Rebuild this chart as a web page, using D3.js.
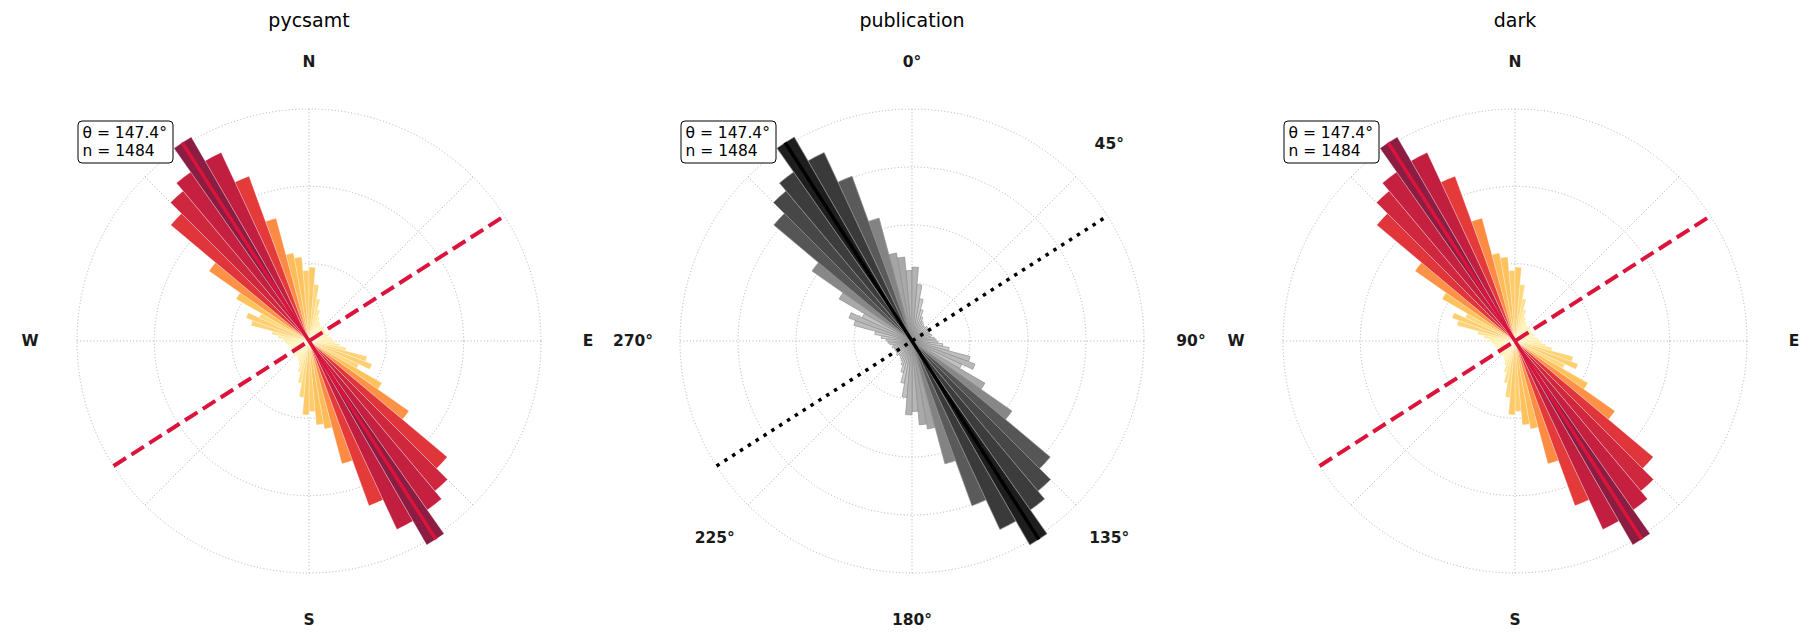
<!DOCTYPE html>
<html><head><meta charset="utf-8">
<script src="https://cdn.jsdelivr.net/npm/d3@7"></script>
<style>body{margin:0;background:#fff}svg{display:block}</style>
</head><body>
<svg id="chart" width="1820" height="644"></svg>
<script>
// ---- data ----
const binStarts = d3.range(0, 180, 5); // azimuth bin starts (deg), mirrored +180
const counts = [43,33,25,19,15,13,12,11,11,12,11,11,11,11,12,11,13,14,
                15,18,22,35,39,32,49,71,105,114,120,137,121,102,74,52,49,41];
const titles = ['pycsamt', 'publication', 'dark'];
const compassLabels = ['N', '', 'E', '', 'S', '', 'W', ''];
// the 315° label sits under the annotation box in the reference, so it is not shown
const degreeLabels = ['0°', '45°', '90°', '135°', '180°', '225°', '270°', ''];
const tickAngles = [0, 45, 90, 135, 180, 225, 270, 315];
const meanDirection = 147.4;
const sampleSize = 1484;
const rMax = 135;
const ringsWarm = [45, 90, 135];
const ringsGrey = [33.75, 67.5, 101.25, 135];

// ---- layout ----
const svg = d3.select('#chart');
const centers = [309, 912, 1515];
const cy = 341;
const R = 232;
const font = 'DejaVu Sans, sans-serif';
const maxCount = d3.max(counts);

const warm = d3.scaleLinear()
  .domain([0, 0.08, 0.36, 0.54, 0.75, 0.88, 1])
  .range(['#fff6b8', '#fff0a6', '#fec25c', '#fd8b44', '#e3383a', '#c41f40', '#8b1c42'])
  .interpolate(d3.interpolateRgb);
const grey = t => d3.interpolateGreys(0.18 + 0.72 * t);

const styles = [
  {labels: compassLabels, rings: ringsWarm, fill: warm, edge: 'rgba(255,255,255,0.55)', edgeW: 0.5,
   meanColor: '#dc143c', perpColor: '#dc143c', perpDash: '14.8,6.4', perpW: 4},
  {labels: degreeLabels, rings: ringsGrey, fill: grey, edge: '#8f8f8f', edgeW: 0.7,
   meanColor: '#000000', perpColor: '#000000', perpDash: '3.5,5.8', perpW: 3.5},
  {labels: compassLabels, rings: ringsWarm, fill: warm, edge: 'rgba(255,255,255,0.55)', edgeW: 0.5,
   meanColor: '#dc143c', perpColor: '#dc143c', perpDash: '14.8,6.4', perpW: 4}
];

const rad = d => d * Math.PI / 180;
const bars = [];
binStarts.forEach((b, i) => {
  bars.push({a0: b, v: counts[i]});
  bars.push({a0: b + 180, v: counts[i]});
});
bars.sort((a, b) => a.v - b.v);

titles.forEach((title, p) => {
  const st = styles[p];
  const g = svg.append('g').attr('transform', `translate(${centers[p]},${cy})`);
  const r = d3.scaleLinear().domain([0, rMax]).range([0, R]);

  // grid rings
  g.selectAll('circle.ring').data(st.rings).join('circle')
    .attr('r', d => r(d)).attr('fill', 'none')
    .attr('stroke', '#b0b0b0').attr('stroke-width', 1).attr('stroke-dasharray', '1,2.3');
  // spokes
  g.selectAll('line.spoke').data(tickAngles).join('line')
    .attr('x1', 0).attr('y1', 0)
    .attr('x2', d => R * Math.sin(rad(d))).attr('y2', d => -R * Math.cos(rad(d)))
    .attr('stroke', '#b0b0b0').attr('stroke-width', 1).attr('stroke-dasharray', '1,2.3');

  // bars
  const arc = d3.arc().innerRadius(0);
  g.selectAll('path.bar').data(bars).join('path')
    .attr('d', d => arc({outerRadius: r(d.v), startAngle: rad(d.a0), endAngle: rad(d.a0 + 5)}))
    .attr('fill', d => st.fill(d.v / maxCount))
    .attr('stroke', st.edge).attr('stroke-width', st.edgeW);

  // perpendicular line
  const pa = rad(meanDirection - 90);
  g.append('line')
    .attr('x1', -R * Math.sin(pa)).attr('y1', R * Math.cos(pa))
    .attr('x2', R * Math.sin(pa)).attr('y2', -R * Math.cos(pa))
    .attr('stroke', st.perpColor).attr('stroke-width', st.perpW)
    .attr('stroke-dasharray', st.perpDash);
  // mean direction line
  const ma = rad(meanDirection), L = r(maxCount);
  g.append('line')
    .attr('x1', -L * Math.sin(ma)).attr('y1', L * Math.cos(ma))
    .attr('x2', L * Math.sin(ma)).attr('y2', -L * Math.cos(ma))
    .attr('stroke', st.meanColor).attr('stroke-width', 3.5);

  // angular labels
  const lr = 279;
  g.selectAll('text.tick').data(tickAngles.filter((d, i) => st.labels[i] !== '')).join('text')
    .attr('x', d => lr * Math.sin(rad(d))).attr('y', d => -lr * Math.cos(rad(d)))
    .attr('text-anchor', 'middle').attr('dominant-baseline', 'central')
    .attr('font-family', font).attr('font-weight', 'bold').attr('font-size', 15.5)
    .attr('fill', '#1a1a1a')
    .text(d => st.labels[tickAngles.indexOf(d)]);

  // title
  svg.append('text').attr('x', centers[p]).attr('y', 26.5)
    .attr('text-anchor', 'middle').attr('font-family', font).attr('font-size', 19)
    .attr('fill', '#000').text(title);

  // annotation box
  const ag = g.append('g').attr('transform', `translate(${-231},${-220})`);
  ag.append('rect').attr('x', 0).attr('y', 0).attr('width', 95).attr('height', 42)
    .attr('rx', 4).attr('fill', '#fff').attr('stroke', '#000').attr('stroke-width', 1);
  ag.append('text').attr('x', 4.5).attr('y', 16.5).attr('font-family', font).attr('font-size', 15.5)
    .attr('fill', '#000').text(`θ = ${meanDirection.toFixed(1)}°`);
  ag.append('text').attr('x', 4.5).attr('y', 34.5).attr('font-family', font).attr('font-size', 15.5)
    .attr('fill', '#000').text(`n = ${sampleSize}`);
});
</script>
</body></html>
